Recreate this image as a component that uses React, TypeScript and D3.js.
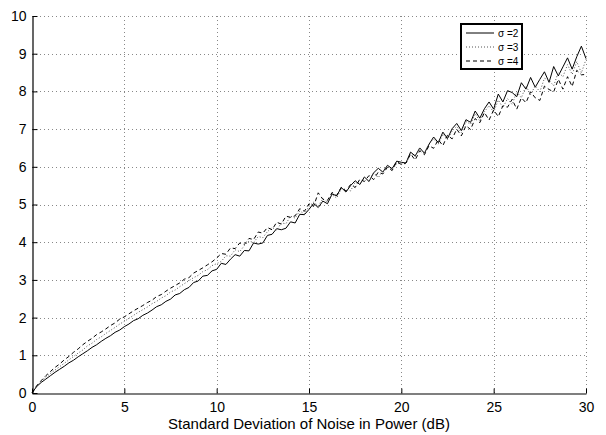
import React, { useEffect, useRef } from 'react';
import * as d3 from 'd3';

// noise std (dB), sampled every 0.25 from 0 to 30
const stepDb = 0.25;

const sigma2 = [
  0, 0.17, 0.28, 0.37, 0.46,
  0.55, 0.63, 0.71, 0.80,
  0.87, 0.96, 1.04, 1.12,
  1.21, 1.28, 1.37, 1.45,
  1.52, 1.61, 1.67, 1.76,
  1.83, 1.92, 1.97, 2.06,
  2.12, 2.20, 2.29, 2.34,
  2.43, 2.49, 2.60, 2.64,
  2.74, 2.80, 2.93, 2.97,
  3.10, 3.12, 3.24, 3.28,
  3.44, 3.41, 3.55, 3.67,
  3.63, 3.78, 3.77, 3.98,
  3.95, 3.98, 4.18, 4.21,
  4.36, 4.33, 4.37, 4.54,
  4.51, 4.74, 4.73, 4.87,
  5.03, 4.92, 5.09, 5.02,
  5.28, 5.23, 5.45, 5.33,
  5.50, 5.63, 5.53, 5.73,
  5.61, 5.84, 5.96, 5.86,
  6.04, 5.95, 6.15, 6.12,
  6.10, 6.39, 6.29, 6.50,
  6.36, 6.60, 6.79, 6.64,
  6.92, 6.75, 7.01, 7.15,
  6.96, 7.25, 7.18, 7.48,
  7.29, 7.54, 7.72, 7.53,
  7.93, 7.72, 8.02, 7.97,
  7.86, 8.23, 8.06, 8.37,
  8.11, 8.32, 8.52, 8.24,
  8.66, 8.41, 8.65, 8.89,
  8.59, 8.92, 9.20, 8.87,
];

const sigma3 = [
  0, 0.18, 0.31, 0.42, 0.52,
  0.61, 0.70, 0.79, 0.88,
  0.97, 1.06, 1.14, 1.25,
  1.32, 1.42, 1.49, 1.58,
  1.66, 1.74, 1.83, 1.90,
  1.98, 2.06, 2.14, 2.21,
  2.28, 2.37, 2.43, 2.52,
  2.58, 2.68, 2.73, 2.82,
  2.90, 2.98, 3.06, 3.12,
  3.22, 3.27, 3.38, 3.43,
  3.49, 3.64, 3.63, 3.80,
  3.75, 3.91, 4.03, 3.99,
  4.15, 4.12, 4.28, 4.39,
  4.32, 4.51, 4.49, 4.69,
  4.64, 4.83, 4.75, 4.95,
  5.06, 4.97, 5.15, 5.06,
  5.26, 5.17, 5.42, 5.40,
  5.36, 5.59, 5.53, 5.72,
  5.62, 5.85, 5.71, 5.90,
  6.02, 5.91, 6.09, 6.08,
  6.08, 6.35, 6.27, 6.51,
  6.36, 6.60, 6.74, 6.60,
  6.87, 6.72, 6.95, 7.07,
  6.91, 7.20, 7.13, 7.41,
  7.21, 7.46, 7.62, 7.45,
  7.77, 7.57, 7.81, 7.65,
  7.99, 7.83, 8.15, 7.91,
  8.15, 7.99, 8.35, 8.29,
  8.15, 8.51, 8.39, 8.71,
  8.45, 8.79, 8.49, 8.85,
];

const sigma4 = [
  0, 0.19, 0.33, 0.46, 0.57,
  0.68, 0.77, 0.88, 0.97,
  1.08, 1.17, 1.28, 1.37,
  1.45, 1.55, 1.62, 1.70,
  1.79, 1.86, 1.96, 2.02,
  2.10, 2.18, 2.25, 2.32,
  2.40, 2.46, 2.56, 2.61,
  2.70, 2.78, 2.85, 2.92,
  3.02, 3.06, 3.18, 3.25,
  3.32, 3.40, 3.48, 3.58,
  3.70, 3.68, 3.85, 3.83,
  3.98, 3.94, 4.10, 4.07,
  4.27, 4.24, 4.39, 4.33,
  4.53, 4.48, 4.69, 4.66,
  4.70, 4.89, 4.82, 5.02,
  4.95, 5.31, 5.14, 5.11,
  5.32, 5.24, 5.46, 5.36,
  5.53, 5.45, 5.67, 5.61,
  5.77, 5.66, 5.86, 5.81,
  5.99, 5.90, 6.14, 6.06,
  6.10, 6.34, 6.18, 6.43,
  6.32, 6.56, 6.49, 6.72,
  6.56, 6.84, 6.74, 7.00,
  6.82, 7.09, 6.99, 7.28,
  7.17, 7.44, 7.24, 7.51,
  7.33, 7.62, 7.58, 7.79,
  7.53, 7.83, 7.70, 7.99,
  7.83, 7.76, 8.14, 8.05,
  7.99, 8.32, 8.06, 8.39,
  8.13, 8.56, 8.44, 8.45,
];

const xTicks = [0, 5, 10, 15, 20, 25, 30];
const yTicks = [0, 1, 2, 3, 4, 5, 6, 7, 8, 9, 10];
const seriesNames = ['\u03c3 =2', '\u03c3 =3', '\u03c3 =4'];
const seriesDash = [null, '1,2', '4,3'];
const seriesColor = ['#000', '#555', '#000'];

const FONT = '"Liberation Sans", Arial, Helvetica, sans-serif';

export default function App() {
  const ref = useRef<SVGSVGElement>(null);

  useEffect(() => {
    const width = 606;
    const height = 435;
    const margin = { left: 32, right: 20, top: 16, bottom: 42 };

    const svg = d3.select(ref.current);
    svg.selectAll('*').remove();

    const x = d3.scaleLinear().domain([0, 30]).range([margin.left, width - margin.right]);
    const y = d3.scaleLinear().domain([0, 10]).range([height - margin.bottom, margin.top]);

    svg.append('rect').attr('width', width).attr('height', height).attr('fill', '#fff');

    // grid
    const grid = svg.append('g').attr('stroke', '#888').attr('stroke-width', 1).attr('stroke-dasharray', '1,3');
    grid.selectAll('line.v')
      .data(xTicks.slice(1))
      .enter()
        .append('line')
        .attr('x1', d => Math.round(x(d)) + 0.5)
        .attr('x2', d => Math.round(x(d)) + 0.5)
        .attr('y1', y(0))
        .attr('y2', y(10));
    grid.selectAll('line.h')
      .data(yTicks.slice(1))
      .enter()
        .append('line')
        .attr('x1', x(0))
        .attr('x2', x(30))
        .attr('y1', d => Math.round(y(d)) + 0.5)
        .attr('y2', d => Math.round(y(d)) + 0.5);

    // curves
    const line = d3.line<number>()
      .x((d, i) => x(i * stepDb))
      .y(d => y(d));

    [sigma2, sigma3, sigma4].forEach((data, k) => {
      svg.append('path')
        .datum(data)
        .attr('d', line)
        .attr('fill', 'none')
        .attr('stroke', seriesColor[k])
        .attr('stroke-width', 1)
        .attr('stroke-dasharray', seriesDash[k]);
    });

    // axes (matlab style, ticks inward, no box)
    const xAxis = d3.axisBottom(x).tickValues(xTicks).tickSizeInner(-5).tickSizeOuter(0).tickPadding(9);
    const yAxis = d3.axisLeft(y).tickValues(yTicks).tickSizeInner(-5).tickSizeOuter(0).tickPadding(6);

    const gx = svg.append('g')
      .attr('transform', `translate(0,${Math.round(y(0)) + 0.5})`)
      .call(xAxis);
    const gy = svg.append('g')
      .attr('transform', `translate(${Math.round(x(0)) + 0.5},0)`)
      .call(yAxis);

    [gx, gy].forEach(g => {
      g.selectAll('path').attr('stroke', '#000').attr('stroke-width', 1.2);
      g.selectAll('line').attr('stroke', '#000');
      g.selectAll('text').attr('font-family', FONT).attr('font-size', 14).attr('fill', '#000');
    });

    svg.append('text')
      .attr('x', (x(0) + x(30)) / 2)
      .attr('y', 429)
      .attr('text-anchor', 'middle')
      .attr('font-family', FONT)
      .attr('font-size', 15)
      .text('Standard Deviation of Noise in Power (dB)');

    // legend
    const legend = svg.append('g');
    legend.append('rect')
      .attr('x', 461).attr('y', 24)
      .attr('width', 61).attr('height', 45)
      .attr('fill', '#fff')
      .attr('stroke', '#000')
      .attr('stroke-width', 2);

    seriesNames.forEach((name, k) => {
      const ly = 33 + k * 14;
      legend.append('line')
        .attr('x1', 466).attr('x2', 494)
        .attr('y1', ly).attr('y2', ly)
        .attr('stroke', seriesColor[k])
        .attr('stroke-dasharray', seriesDash[k]);
      legend.append('text')
        .attr('x', 498).attr('y', ly)
        .attr('dy', '0.35em')
        .attr('font-family', FONT)
        .attr('font-size', 10)
        .text(name);
    });
  }, []);

  return (
    <svg
      ref={ref}
      width={606}
      height={435}
      style={{ position: 'absolute', left: 0, top: 0, display: 'block' }}
    />
  );
}
